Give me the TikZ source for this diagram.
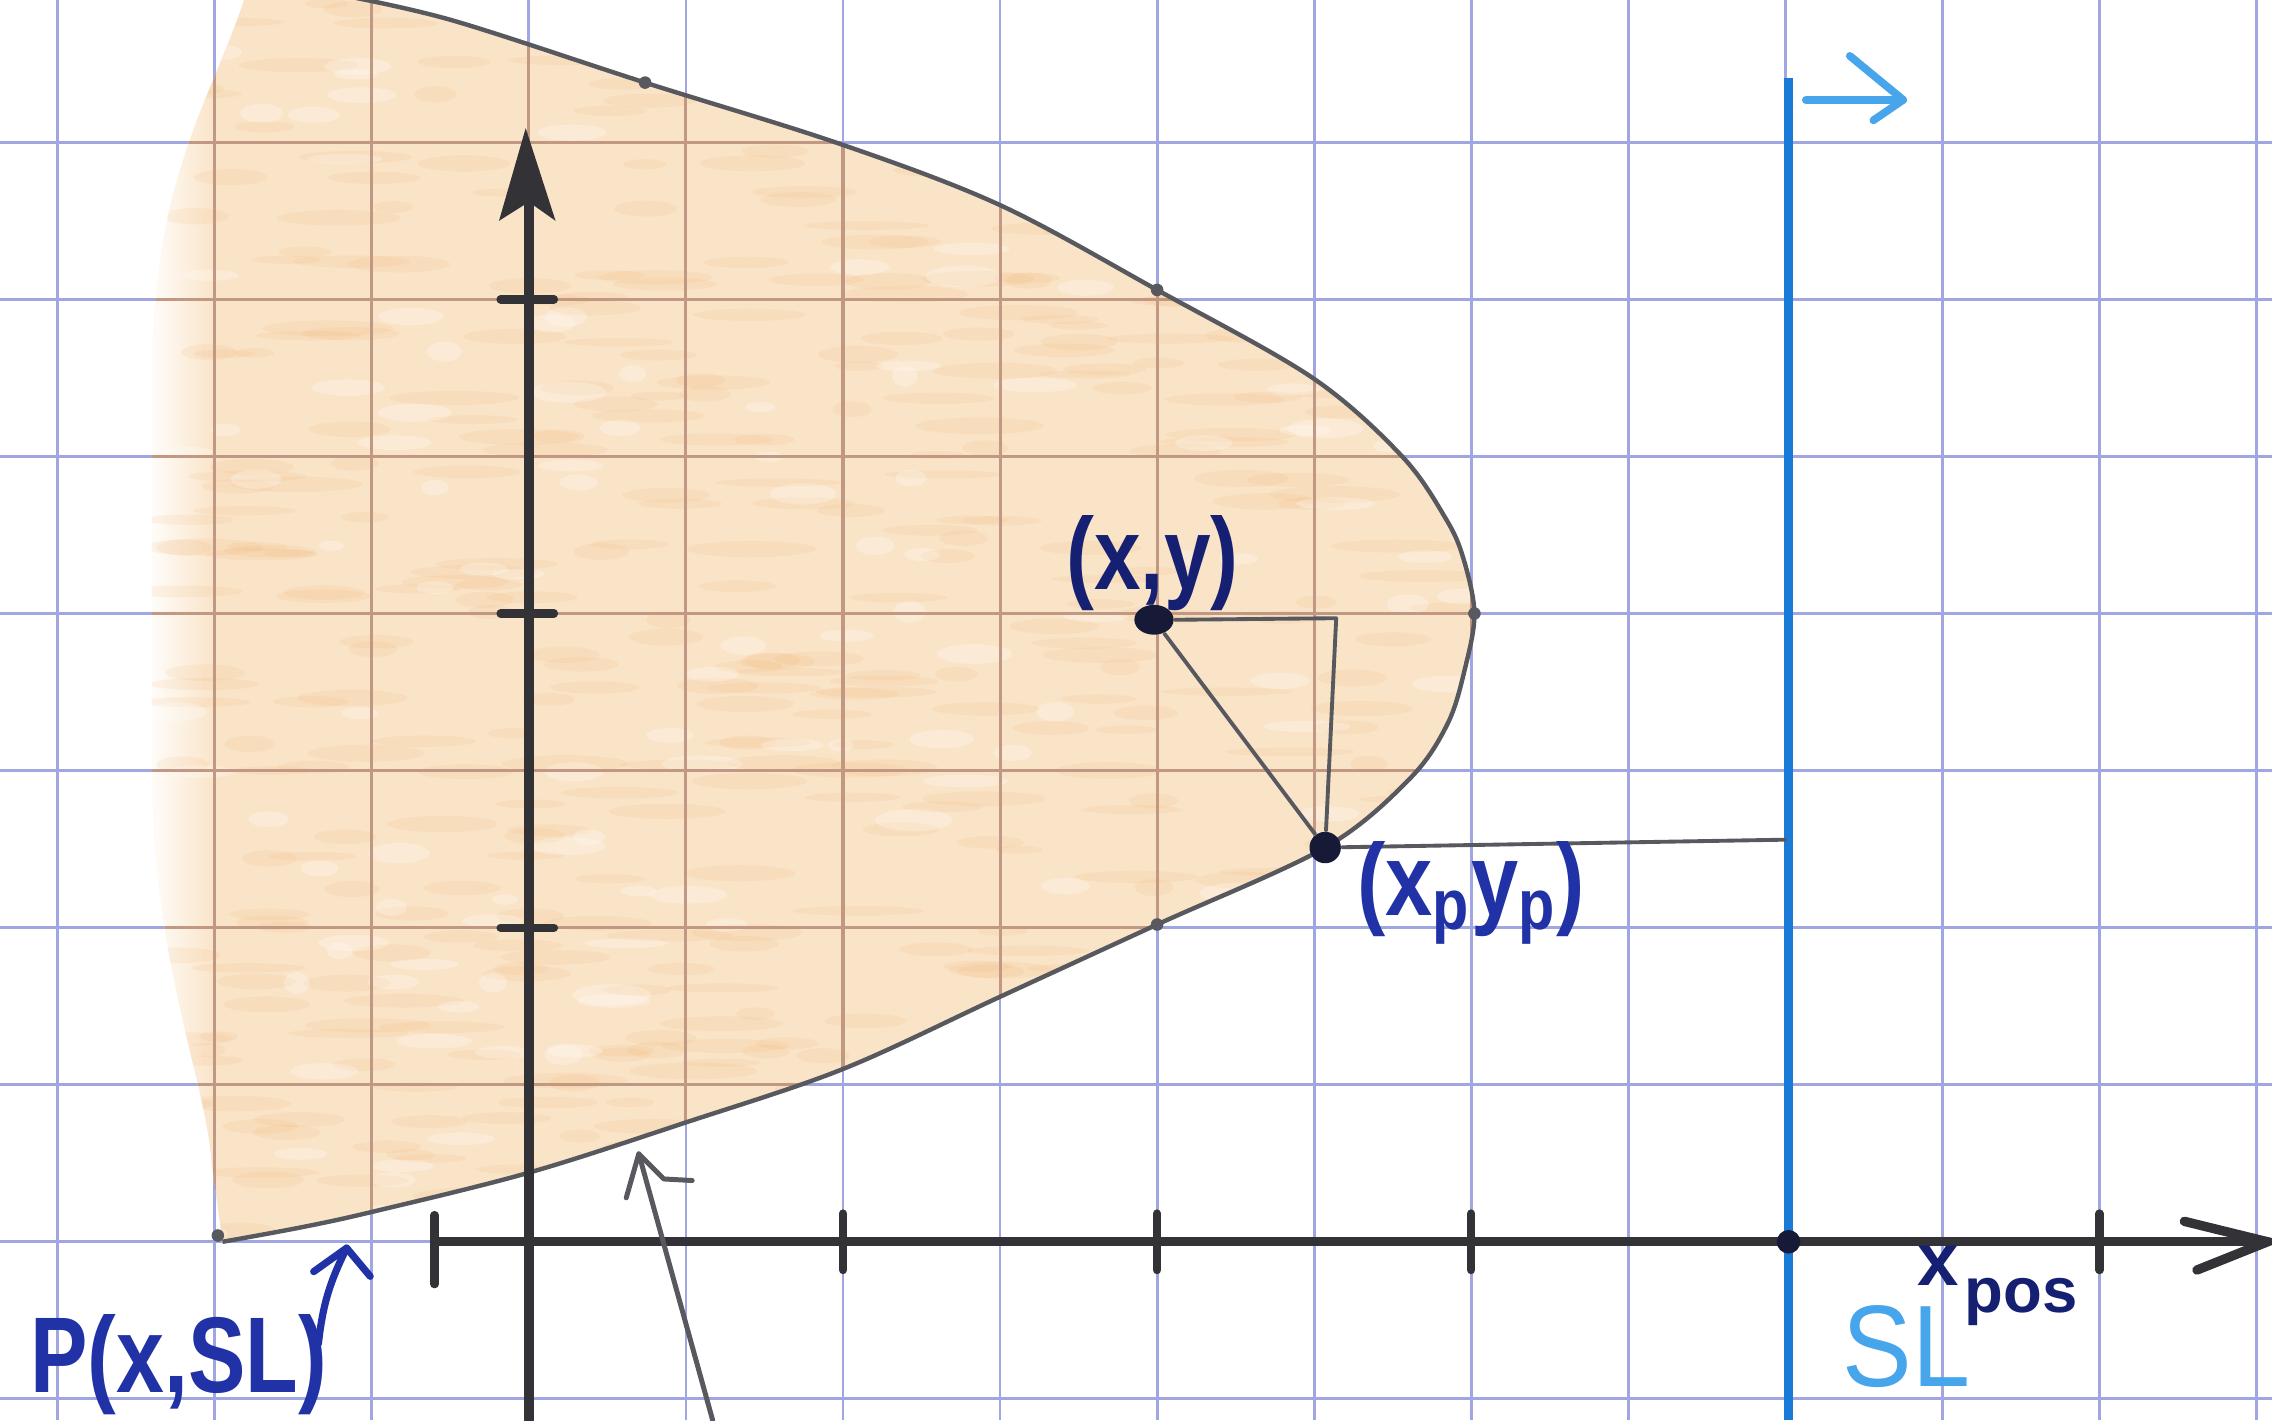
\documentclass[tikz,border=0pt]{standalone}
\usepackage{fontspec}
\setmainfont{Liberation Sans}
\usetikzlibrary{arrows.meta,shapes.geometric}
\definecolor{gridblue}{RGB}{160,166,226}
\definecolor{gridbrown}{RGB}{192,152,132}
\definecolor{fillor}{RGB}{250,228,200}
\definecolor{speck}{RGB}{238,168,96}
\definecolor{axisc}{RGB}{50,50,55}
\definecolor{curvec}{RGB}{88,88,95}
\definecolor{slblue}{RGB}{25,122,215}
\definecolor{skyblue}{RGB}{70,165,235}
\definecolor{navy}{RGB}{22,32,115}
\definecolor{penblue}{RGB}{32,50,165}
\definecolor{dotc}{RGB}{22,26,55}
\newcommand\myparab{plot[smooth, tension=0.55] coordinates {(-1.95,0.0) (-1.46,0.09) (-1.0,0.19) (0,0.44) (1,0.76) (2,1.10) (3,1.56) (4,2.02) (5.07,2.51) (5.61,2.95) (5.85,3.3) (5.96,3.65) (6.02,4.0) (5.95,4.35) (5.84,4.6) (5.56,5.0) (4.99,5.5) (4.0,6.06) (3.0,6.6) (1.98,6.99) (0.74,7.38) (-0.5,7.78) (-1.26,7.95)}}
\newcommand\myregion{\myparab -- (-1.8,7.95) .. controls (-2.0,7.3) and (-2.4,6.8) .. (-2.4,5.5) -- (-2.4,3.0) .. controls (-2.4,1.8) and (-2.05,1.0) .. (-2.02,0.5) -- cycle}
\tikzset{
  gridline/.style={gridblue, line width=0.5pt},
  gridinside/.style={gridbrown, line width=0.55pt},
  axisline/.style={axisc, line width=1.7pt, line cap=round},
  tickline/.style={axisc, line width=1.5pt, line cap=round},
  curveline/.style={curvec, line width=0.8pt},
  helpline/.style={curvec, line width=0.7pt, line cap=round, line join=round},
  bigdot/.style={circle, fill=dotc, inner sep=0pt, minimum size=0.2cm},
  smalldot/.style={circle, fill=curvec, inner sep=0pt, minimum size=0.08cm},
  penlabel/.style={font=\bfseries\fontsize{18.5}{20}\selectfont, inner sep=0pt},
  penline/.style={penblue, line width=1.3pt, line cap=round, line join=round},
  skyline/.style={skyblue, line width=1.4pt, line cap=round, line join=round}
}
\begin{document}
\begin{tikzpicture}[x=1cm,y=1cm]
\useasboundingbox (-3.367,-1.135) rectangle (11.098,7.906);
\fill[white] (-3.367,-1.135) rectangle (11.098,7.906);
% grid paper
\draw[gridline, step=1] (-3.367,-1.135) grid (11.098,7.906);
% shaded region
\begin{scope}
  \clip (-3.367,-1.135) rectangle (11.098,7.906);
  \clip \myregion;
  \fill[fillor] (-2.0,-1) rectangle (7,8);
  \shade[left color=white, right color=fillor] (-2.45,-1) rectangle (-2.0,8);
  \pgfmathsetseed{7}
  \foreach \i in {1,...,450}{
    \fill[speck, opacity=0.11] ({-2.3+8.4*rnd},{8*rnd}) ellipse [x radius={0.12+0.3*rnd}, y radius={0.025+0.03*rnd}];
  }
  \pgfmathsetseed{11}
  \foreach \i in {1,...,150}{
    \fill[white, opacity=0.25] ({-2.3+8.4*rnd},{8*rnd}) ellipse [x radius={0.08+0.2*rnd}, y radius={0.03+0.04*rnd}];
  }
  \draw[gridinside, step=1] (-3,-1) grid (7,8);
\end{scope}
% parabola
\draw[curveline] \myparab;
% axes
\coordinate (yb) at (0,-1.135);
\coordinate (ys) at (0,6.62);
\coordinate (yt) at (-0.02,7.09);
\draw[axisline] (yb) -- (ys);
\fill[axisc] (yt) -- (0.17,6.50) -- (0.0,6.62) -- (-0.19,6.50) -- cycle;
\coordinate (xl) at (-0.6,0);
\coordinate (xr) at (11.07,0);
\draw[axisline] (xl) -- (xr);
\draw[axisline] (10.54,0.13) -- (xr) -- (10.62,-0.18);
% ticks
\foreach \t in {2,4,6,10}{\draw[tickline] (\t,0.18) -- (\t,-0.18);}
\draw[tickline] (-0.6,0.17) -- (-0.6,-0.27);
\foreach \t in {2,4,6}{\draw[tickline] (-0.18,\t) -- (0.16,\t);}
% sweep line
\coordinate (slt) at (8.02,7.41);
\coordinate (slb) at (8.02,-1.135);
\draw[slblue, line width=1.7pt] (slt) -- (slb);
\coordinate (sa0) at (8.13,7.27);
\coordinate (sa1) at (8.75,7.27);
\draw[skyline] (sa0) -- (sa1);
\draw[skyline] (8.41,7.55) -- (sa1) -- (8.56,7.14);
\node[circle, fill=dotc, inner sep=0pt, minimum size=0.15cm] (slx) at (8.02,0) {};
% marks on the parabola
\node[smalldot] (m1) at (4.0,6.06) {};
\node[smalldot] (m2) at (6.02,4.0) {};
\node[smalldot] (m3) at (4.0,2.02) {};
\node[smalldot] (m4) at (0.74,7.38) {};
\node[smalldot] (m5) at (-1.98,0.04) {};
% site and parabola point
\node[ellipse, fill=dotc, inner sep=0pt, minimum width=0.25cm, minimum height=0.19cm] (F) at (3.98,3.96) {};
\node[bigdot] (Q) at (5.07,2.51) {};
\coordinate (C) at (5.14,3.97);
\coordinate (S) at (8.0,2.56);
\draw[helpline] (F.east) -- (C) -- (Q);
\draw[helpline] (F) -- (Q);
\draw[helpline] (Q) -- (S);
% labels
\node[penlabel, navy, xscale=0.82] (lxy) at (3.97,4.32) {(x,y)};
\node[penlabel, penblue, xscale=0.83] (lq) at (6.0,2.22) {(x\textsubscript{p}y\textsubscript{p})};
\node[font=\bfseries\fontsize{19.5}{21}\selectfont, penblue, inner sep=0pt, xscale=0.8] (lp) at (-2.23,-0.78) {P(x,SL)};
\node[font=\fontsize{21}{23}\selectfont, skyblue, inner sep=0pt, xscale=0.9] (lsl) at (8.77,-0.67) {SL};
\node[font=\bfseries\fontsize{13.5}{15}\selectfont, navy, inner sep=0pt] (lx) at (8.97,-0.15) {x};
\node[font=\bfseries\fontsize{11.5}{13}\selectfont, navy, inner sep=0pt] (lpos) at (9.5,-0.38) {pos};
% pointer arrows
\coordinate (pa0) at (-1.34,-0.65);
\coordinate (pa1) at (-1.16,-0.04);
\draw[penline] (pa0) to[bend left=10] (pa1);
\draw[penline] (-1.37,-0.19) -- (pa1) -- (-1.01,-0.22);
\coordinate (ga0) at (1.17,-1.135);
\coordinate (ga1) at (0.70,0.56);
\draw[helpline, line width=0.9pt] (ga0) -- (ga1);
\draw[helpline, line width=0.9pt] (0.62,0.28) -- (ga1) -- (0.86,0.40) -- (1.04,0.39);
\end{tikzpicture}
\end{document}
